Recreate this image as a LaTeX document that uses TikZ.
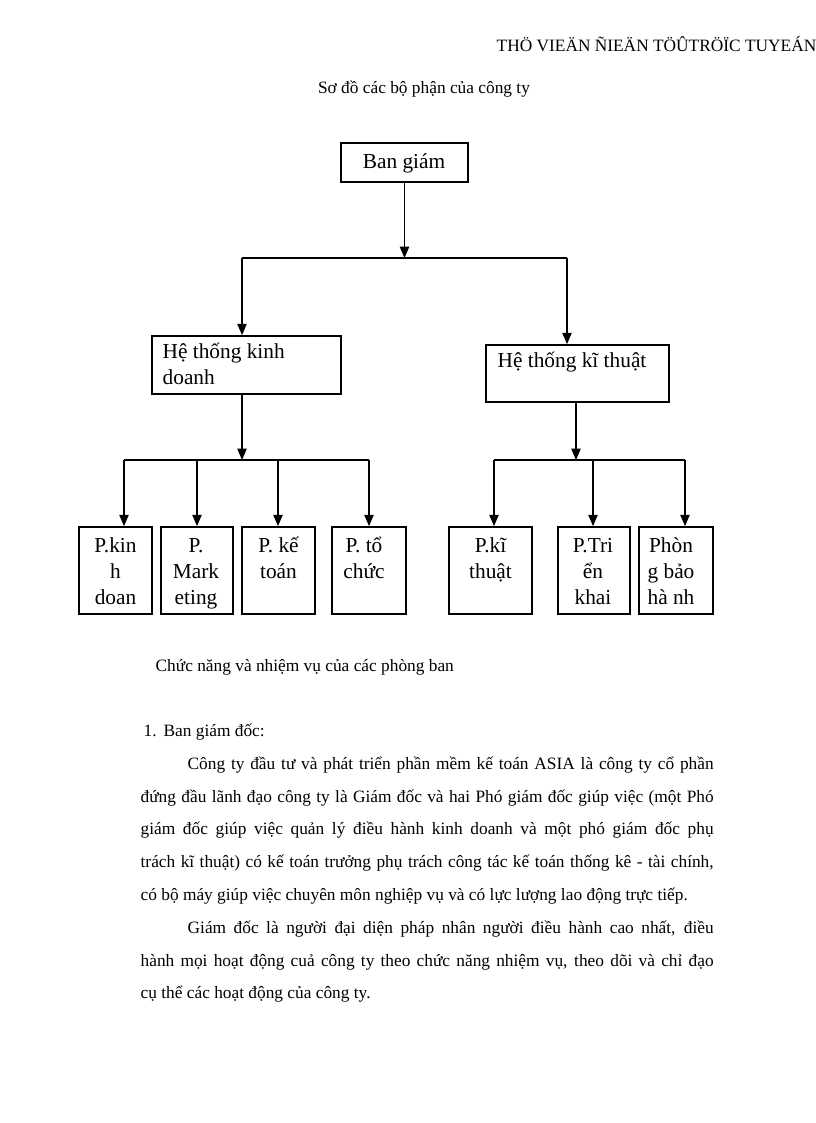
\documentclass[tikz,border=0pt]{standalone}
\usepackage{fontspec}
\setmainfont{Liberation Serif}
\usetikzlibrary{arrows.meta}
\newcommand{\dem}{\rule{0pt}{16pt}}
\tikzset{
  khung/.style 2 args={draw, line width=1.3pt, inner sep=0pt,
    minimum width=#1*0.75pt, minimum height=#2*0.75pt},
  nhan/.style={inner sep=0pt, anchor=north, align=center,
    font=\fontsize{16}{19.3}\selectfont},
  van/.style={inner sep=0pt, anchor=base west, font=\fontsize{13}{15}\selectfont},
}

\begin{document}
\begin{tikzpicture}[x=0.75pt, y=-0.75pt, line width=1pt,
    >={Triangle[length=8.5pt, width=7pt]}]
    \useasboundingbox (0,0) rectangle (816,1123);

    % 1. Đầu trang và tiêu đề sơ đồ
    \node[van] (dau) at (496,52) {THÖ VIEÄN ÑIEÄN TÖÛTRÖÏC TUYEÁN};
    \node[van, anchor=base] (tieude) at (424,94) {Sơ đồ các bộ phận của công ty};

    % 2. Các khung
    \node[khung={127}{39}] (bgd) at (404.5,162.5) {};
    \node[khung={189}{58}] (htkd) at (246.5,365) {};
    \node[khung={183}{57}] (htkt) at (577.5,373.5) {};
    \node[khung={73}{87}] (pkd) at (115.5,570.5) {};
    \node[khung={72}{87}] (pmk) at (197,570.5) {};
    \node[khung={73}{87}] (pkt) at (278.5,570.5) {};
    \node[khung={74}{87}] (ptc) at (369,570.5) {};
    \node[khung={83}{87}] (pkth) at (490.5,570.5) {};
    \node[khung={72}{87}] (ptk) at (594,570.5) {};
    \node[khung={74}{87}] (pbh) at (676,570.5) {};

    % 3. Chữ trong khung
    \node[nhan] (bgd-t) at (404,147) {\dem Ban giám};
    \node[nhan, anchor=north west, align=left] (htkd-t) at (162,336.7) {\dem Hệ thống kinh\\doanh};
    \node[nhan, anchor=north west, align=left] (htkt-t) at (497,345.7) {\dem Hệ thống kĩ thuật};
    \node[nhan] (pkd-t) at (115.5,530.7) {\dem P.kin\\h\\doan};
    \node[nhan] (pmk-t) at (196,530.7) {\dem P.\\Mark\\eting};
    \node[nhan] (pkt-t) at (278.5,530.7) {\dem P. kế\\toán};
    \node[nhan] (ptc-t) at (364,530.7) {\dem P. tổ\\chức};
    \node[nhan] (pkth-t) at (490.5,530.7) {\dem P.kĩ\\thuật};
    \node[nhan] (ptk-t) at (593,530.7) {\dem P.Tri\\ển\\khai};
    \node[nhan] (pbh-t) at (671,530.7) {\dem Phòn\\g bảo\\hà nh};

    % 4. Mũi tên từ ban giám xuống hai hệ thống
    \coordinate (r1) at (242,258);
    \coordinate (r2) at (567,258);
    \draw[->] (bgd.south) -- (bgd.south |- r1);
    \draw (r1) -- (r2);
    \draw[->] (r1) -- (r1 |- htkd.north);
    \draw[->] (r2) -- (r2 |- htkt.north);

    % 5. Nhánh kinh doanh
    \coordinate (s1) at (124,460);
    \coordinate (s2) at (369,460);
    \draw[->] (r1 |- htkd.south) -- (r1 |- s1);
    \draw (s1) -- (s2);
    \foreach \x/\p in {124/pkd, 197/pmk, 278/pkt, 369/ptc} {
        \coordinate (c) at (\x,460);
        \draw[->] (c) -- (c |- \p.north);
    }

    % 6. Nhánh kĩ thuật
    \coordinate (t0) at (576,460);
    \coordinate (t1) at (494,460);
    \coordinate (t2) at (685,460);
    \draw[->] (t0 |- htkt.south) -- (t0);
    \draw (t1) -- (t2);
    \foreach \x/\p in {494/pkth, 593/ptk, 685/pbh} {
        \coordinate (c) at (\x,460);
        \draw[->] (c) -- (c |- \p.north);
    }

    % 7. Phần chữ bên dưới
    \node[van] (chucnang) at (155,671) {Chức năng và nhiệm vụ của các phòng ban};
    \node[van] (muc1) at (143,736) {\makebox[15pt][l]{1.}Ban giám đốc:};
    \node[van] (dong1) at (187,769) {\makebox[394.5pt][s]{Công ty đầu tư và phát triển phần mềm kế toán ASIA là công ty cổ phần}};
    \node[van] (dong2) at (140,802) {\makebox[429.75pt][s]{đứng đầu lãnh đạo công ty là Giám đốc và hai Phó giám đốc giúp việc (một Phó}};
    \node[van] (dong3) at (140,834) {\makebox[429.75pt][s]{giám đốc giúp việc quản lý điều hành kinh doanh và một phó giám đốc phụ}};
    \node[van] (dong4) at (140,867) {\makebox[429.75pt][s]{trách kĩ thuật) có kế toán trưởng phụ trách công tác kế toán thống kê - tài chính,}};
    \node[van] (dong5) at (140,900) {có bộ máy giúp việc chuyên môn nghiệp vụ và có lực lượng lao động trực tiếp.};
    \node[van] (dong6) at (187,933) {\makebox[394.5pt][s]{Giám đốc là người đại diện pháp nhân người điều hành cao nhất, điều}};
    \node[van] (dong7) at (140,966) {\makebox[429.75pt][s]{hành mọi hoạt động cuả  công ty theo chức năng nhiệm vụ, theo  dõi và chỉ đạo}};
    \node[van] (dong8) at (140,998) {cụ thể các hoạt động của công ty.};
\end{tikzpicture}
\end{document}
